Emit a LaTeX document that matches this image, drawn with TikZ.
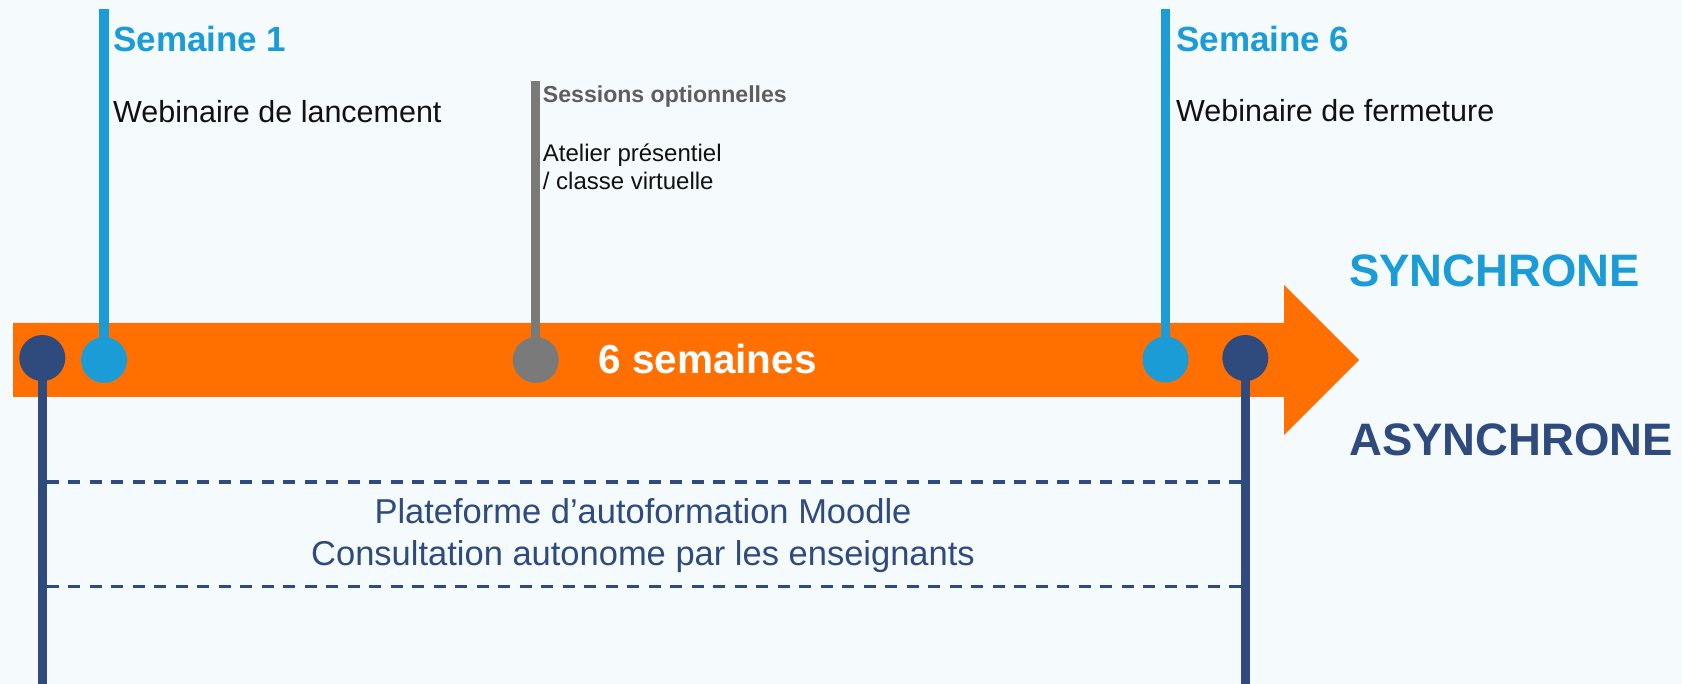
\documentclass[tikz,border=0pt]{standalone}
\usepackage{fontspec}
\setmainfont{Liberation Sans}
\definecolor{bgc}{HTML}{F5FAFD}
\definecolor{orangec}{HTML}{FF7000}
\definecolor{bluec}{HTML}{1C9CD7}
\definecolor{navyc}{HTML}{2F4A7C}
\definecolor{grayc}{HTML}{7A7A7A}
\definecolor{graytext}{HTML}{5E5E5E}
\definecolor{textc}{HTML}{111111}
\tikzset{
  dot/.style={circle,minimum size=46pt,inner sep=0pt,fill=#1},
  stem/.style={line width=9.3pt,draw=#1},
  lbl/.style={inner sep=0pt,anchor=base west},
  dashline/.style={draw=navyc,line width=3.2pt,dash pattern=on 12pt off 9.5pt},
}
\begin{document}
\begin{tikzpicture}[x=1pt,y=-1pt]
\fill[bgc] (0,0) rectangle (1682,684);
\useasboundingbox (0,0) rectangle (1682,684);
% arrow
\fill[orangec] (13,323) -- (1284,323) -- (1284,285) -- (1359,360) -- (1284,435) -- (1284,397) -- (13,397) -- cycle;
% circles
\node[dot=navyc] (a1) at (42.3,358) {};
\node[dot=bluec] (s1) at (104,360) {};
\node[dot=grayc] (g1) at (535.8,360) {};
\node[dot=bluec] (s6) at (1165.5,359.5) {};
\node[dot=navyc] (a2) at (1245.3,358) {};
% stem ends
\coordinate (s1top) at (104,9.3);
\coordinate (g1top) at (535.8,80.7);
\coordinate (s6top) at (1165.5,9.3);
\coordinate (a1bot) at (42.3,690);
\coordinate (a2bot) at (1245.3,690);
\draw[stem=bluec] (s1top) -- (s1.center);
\draw[stem=grayc] (g1top) -- (g1.center);
\draw[stem=bluec] (s6top) -- (s6.center);
\draw[stem=navyc] (a1.center) -- (a1bot);
\draw[stem=navyc] (a2.center) -- (a2bot);
% dashed lines
\coordinate (dy1) at (0,482);
\coordinate (dy2) at (0,586.7);
\draw[dashline] ([xshift=4.65pt]a1 |- dy1) -- ([xshift=-4.65pt]a2 |- dy1);
\draw[dashline] ([xshift=4.65pt]a1 |- dy2) -- ([xshift=-4.65pt]a2 |- dy2);
% texts
\node[lbl,text=bluec,font=\fontsize{35}{42}\selectfont\bfseries] (t1) at (113,52) {Semaine 1};
\node[lbl,text=textc,font=\fontsize{30.5}{36}\selectfont] (t2) at (113,123) {Webinaire de lancement};
\node[lbl,text=bluec,font=\fontsize{35}{42}\selectfont\bfseries] (t3) at (1176,52) {Semaine 6};
\node[lbl,text=textc,font=\fontsize{30.5}{36}\selectfont] (t4) at (1176,121.7) {Webinaire de fermeture};
\node[lbl,text=graytext,font=\fontsize{23.1}{27}\selectfont\bfseries] (t5) at (542.7,103) {Sessions optionnelles};
\node[lbl,text=textc,font=\fontsize{24}{27.7}\selectfont] (t6) at (542.7,161.7) {Atelier présentiel};
\node[lbl,text=textc,font=\fontsize{24}{27.7}\selectfont] (t7) at (542.7,189.4) {/ classe virtuelle};
\node[lbl,text=bluec,font=\fontsize{45.5}{56}\selectfont\bfseries] (t8) at (1349,286.7) {SYNCHRONE};
\node[lbl,text=navyc,font=\fontsize{45.5}{56}\selectfont\bfseries] (t9) at (1349,456) {ASYNCHRONE};
\node[inner sep=0pt,anchor=base,text=white,font=\fontsize{40.5}{48}\selectfont\bfseries] (t10) at (707.5,373.3) {6 semaines};
\node[inner sep=0pt,anchor=base,text=navyc,font=\fontsize{34.5}{42}\selectfont] (t11) at (643,523.3) {Plateforme d’autoformation Moodle};
\node[inner sep=0pt,anchor=base,text=navyc,font=\fontsize{34.5}{42}\selectfont] (t12) at (643,565) {Consultation autonome par les enseignants};
\end{tikzpicture}
\end{document}
